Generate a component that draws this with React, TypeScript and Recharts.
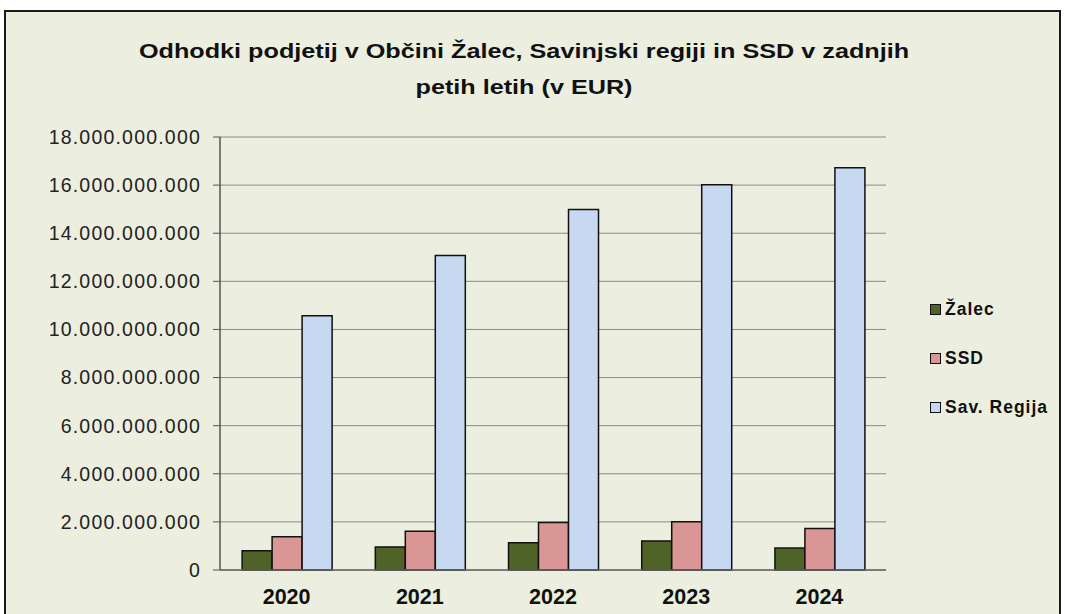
import React from 'react';
import { BarChart, Bar, XAxis, YAxis, CartesianGrid } from 'recharts';

const years = ['2020', '2021', '2022', '2023', '2024'];
const zalec = [800000000, 960000000, 1130000000, 1210000000, 910000000];
const ssd = [1380000000, 1610000000, 1970000000, 2010000000, 1720000000];
const savRegija = [10570000000, 13070000000, 14990000000, 16010000000, 16720000000];
const yTicks = [0, 2000000000, 4000000000, 6000000000, 8000000000, 10000000000, 12000000000, 14000000000, 16000000000, 18000000000];
const boundaryTicks = [0, 1, 2, 3, 4, 5];
const titleLines = ['Odhodki podjetij v Občini Žalec, Savinjski regiji in SSD v zadnjih', 'petih letih (v EUR)'];

const series = [
  { key: 'zalec', name: 'Žalec', color: '#4F6228' },
  { key: 'ssd', name: 'SSD', color: '#D99694' },
  { key: 'sav', name: 'Sav. Regija', color: '#C6D9F1' },
];

const data = years.map((y, i) => ({ year: y, zalec: zalec[i], ssd: ssd[i], sav: savRegija[i] }));

const fmt = (v: number) => String(v).replace(/\B(?=(\d{3})+(?!\d))/g, '.');

const FONT = '"Liberation Sans", Arial, sans-serif';

export default function App() {
  return (
    <div style={{ position: 'absolute', left: 0, top: 0, width: 1065, height: 614, background: '#fff', overflow: 'hidden', fontFamily: FONT }}>
      <div style={{ position: 'absolute', left: 4, top: 10, width: 1057, height: 630, border: '2px solid #1a1a1a', background: '#ECEFDF', boxSizing: 'border-box' }} />
      <div style={{ position: 'absolute', left: 0, top: 32.75, width: 1048, textAlign: 'center', fontWeight: 'bold', fontSize: 21, lineHeight: '36px', color: '#111', transform: 'scaleX(1.2)', transformOrigin: '524px 0' }}>
        {titleLines.map((t, i) => (
          <div key={i} style={{ whiteSpace: 'nowrap' }}>{t}</div>
        ))}
      </div>
      <div style={{ position: 'absolute', left: 0, top: 0 }}>
        <BarChart
          width={1065}
          height={614}
          data={data}
          margin={{ top: 137, right: 179, bottom: 0, left: 0 }}
          barCategoryGap="16.6%"
          barGap={0}
        >
          <CartesianGrid vertical={false} stroke="#8a8a8a" strokeWidth={1} yAxisId="left" xAxisId="cat" />
          <XAxis
            xAxisId="bound"
            type="number"
            domain={[0, 5]}
            ticks={boundaryTicks}
            allowDataOverflow
            height={0}
            tick={false}
            axisLine={false}
            tickLine={{ stroke: '#777' }}
            tickSize={7}
          />
          <XAxis
            xAxisId="cat"
            dataKey="year"
            height={44}
            tickLine={false}
            tickSize={0}
            tickMargin={19}
            axisLine={{ stroke: '#666', strokeWidth: 1.5 }}
            tick={{ fontSize: 21.5, fontWeight: 'bold', fill: '#111', fontFamily: FONT }}
          />
          <YAxis
            yAxisId="left"
            width={220}
            domain={[0, 18000000000]}
            ticks={yTicks}
            tickFormatter={fmt}
            tickSize={7}
            tickMargin={12}
            axisLine={{ stroke: '#555', strokeWidth: 1.5 }}
            tickLine={{ stroke: '#555' }}
            tick={{ fontSize: 19.5, fill: '#222', fontFamily: FONT, letterSpacing: 1.2 }}
          />
          <YAxis
            yAxisId="right"
            orientation="right"
            width={0}
            domain={[0, 18000000000]}
            tick={false}
            tickLine={false}
            axisLine={{ stroke: '#888' }}
          />
          {series.map((s) => (
            <Bar
              key={s.key}
              dataKey={s.key}
              name={s.name}
              fill={s.color}
              stroke="#111"
              strokeWidth={1.5}
              xAxisId="cat"
              yAxisId="left"
              isAnimationActive={false}
            />
          ))}
        </BarChart>
      </div>
      {series.map((s, i) => (
        <div key={s.key} style={{ position: 'absolute', left: 930, top: 309 + i * 49 - 12, height: 24, display: 'flex', alignItems: 'center' }}>
          <div style={{ width: 11, height: 11, boxSizing: 'border-box', border: '1.5px solid #111', background: s.color, marginRight: 4 }} />
          <span style={{ fontSize: 17.5, fontWeight: 'bold', color: '#111', letterSpacing: 1, whiteSpace: 'nowrap' }}>{s.name}</span>
        </div>
      ))}
    </div>
  );
}
